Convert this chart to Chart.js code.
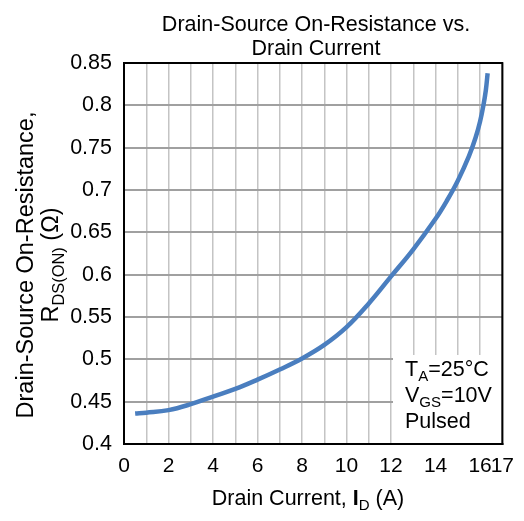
<!DOCTYPE html>
<html>
<head>
<meta charset="utf-8">
<script src="https://cdn.jsdelivr.net/npm/chart.js@4/dist/chart.umd.min.js"></script>
<style>
  html, body { margin: 0; padding: 0; background: #fff; }
  #wrap { width: 524px; height: 521px; }
</style>
</head>
<body>
<div id="wrap"><canvas id="rdsChart" width="524" height="521"></canvas></div>
<script>
const currentA = [0.5, 1, 2, 3, 4, 5, 6, 7, 8, 9, 10, 11, 12, 13, 14, 14.5, 15, 15.5, 15.8, 16, 16.15, 16.26, 16.34];
const resistanceOhm = [0.436, 0.437, 0.440, 0.447, 0.456, 0.465, 0.476, 0.488, 0.501, 0.517, 0.538, 0.566, 0.598, 0.630, 0.666, 0.687, 0.711, 0.740, 0.762, 0.781, 0.800, 0.818, 0.838];

const xGridValues = [0, 1, 2, 3, 4, 5, 6, 7, 8, 9, 10, 11, 12, 13, 14, 15, 16, 17];
const xTickLabels = [0, 2, 4, 6, 8, 10, 12, 14, 16, 17];
const yTickValues = [0.4, 0.45, 0.5, 0.55, 0.6, 0.65, 0.7, 0.75, 0.8, 0.85];

const titleLines = ["Drain-Source On-Resistance vs.", "Drain Current"];
const notes = [
  [{ t: "T" }, { t: "A", sub: true }, { t: "=25°C" }],
  [{ t: "V" }, { t: "GS", sub: true }, { t: "=10V" }],
  [{ t: "Pulsed" }]
];

const FONT = "'Liberation Sans', Arial, sans-serif";

function richWidth(ctx, parts, size) {
  let w = 0;
  parts.forEach(p => {
    ctx.font = (p.bold ? "bold " : "") + (p.sub ? size * 0.7 : size) + "px " + FONT;
    w += ctx.measureText(p.t).width;
  });
  return w;
}

function drawRich(ctx, parts, x, y, size, align) {
  let cx = align === "center" ? x - richWidth(ctx, parts, size) / 2 : x;
  ctx.textAlign = "left";
  ctx.textBaseline = "alphabetic";
  parts.forEach(p => {
    ctx.font = (p.bold ? "bold " : "") + (p.sub ? size * 0.7 : size) + "px " + FONT;
    ctx.fillText(p.t, cx, p.sub ? y + size * 0.25 : y);
    cx += ctx.measureText(p.t).width;
  });
}

const textPlugin = {
  id: "texts",
  afterDatasetsDraw(chart) {
    const { ctx, chartArea: a } = chart;
    ctx.save();

    // note box
    ctx.fillStyle = "#fff";
    ctx.fillRect(393, 355, a.right - 393, a.bottom - 355);
    ctx.fillStyle = "#000";
    notes.forEach((line, i) => drawRich(ctx, line, 405, 376 + i * 26, 21.5, "left"));

    // frame
    ctx.strokeStyle = "#000";
    ctx.lineWidth = 2;
    ctx.strokeRect(a.left, a.top, a.right - a.left, a.bottom - a.top);

    // title
    titleLines.forEach((s, i) => drawRich(ctx, [{ t: s }], 316, 31 + i * 24, 21.5, "center"));

    // x title
    drawRich(ctx, [{ t: "Drain Current, " }, { t: "I", bold: true }, { t: "D", sub: true }, { t: " (A)" }], 308, 505, 21.5, "center");

    // y title
    ctx.translate(0, 265);
    ctx.rotate(-Math.PI / 2);
    drawRich(ctx, [{ t: "Drain-Source On-Resistance," }], 0, 33, 23.5, "center");
    drawRich(ctx, [{ t: "R" }, { t: "DS(ON)", sub: true }, { t: " (Ω)" }], 0, 58, 23.5, "center");
    ctx.restore();
  }
};

const ctx = document.getElementById("rdsChart").getContext("2d");
new Chart(ctx, {
  type: "line",
  data: {
    datasets: [{
      data: currentA.map((x, i) => ({ x, y: resistanceOhm[i] })),
      borderColor: "#4a7ebf",
      borderWidth: 4.5,
      pointRadius: 0,
      fill: false,
      tension: 0.4
    }]
  },
  options: {
    responsive: false,
    animation: false,
    layout: { padding: { top: 63, right: 19, left: 0, bottom: 0 } },
    plugins: { legend: { display: false }, tooltip: { enabled: false }, title: { display: false } },
    scales: {
      x: {
        type: "linear",
        min: 0,
        max: 17,
        afterBuildTicks: s => { s.ticks = xGridValues.map(v => ({ value: v })); },
        afterFit: s => { s.height = 77; },
        grid: { color: "#c4c4c4", lineWidth: 1.5, drawTicks: false },
        border: { color: "#000", width: 2 },
        ticks: {
          autoSkip: false,
          maxRotation: 0,
          padding: 10,
          color: "#000",
          font: { family: FONT, size: 21 },
          callback: v => xTickLabels.includes(v) ? String(v) : ""
        }
      },
      y: {
        min: 0.4,
        max: 0.85,
        afterBuildTicks: s => { s.ticks = yTickValues.map(v => ({ value: v })); },
        afterFit: s => { s.width = 124; },
        grid: { color: "#a0a0a0", lineWidth: 2, drawTicks: false },
        border: { color: "#000", width: 2 },
        ticks: {
          padding: 12,
          color: "#000",
          font: { family: FONT, size: 21.5 },
          callback: v => String(+v.toFixed(2))
        }
      }
    }
  },
  plugins: [textPlugin]
});
</script>
</body>
</html>
